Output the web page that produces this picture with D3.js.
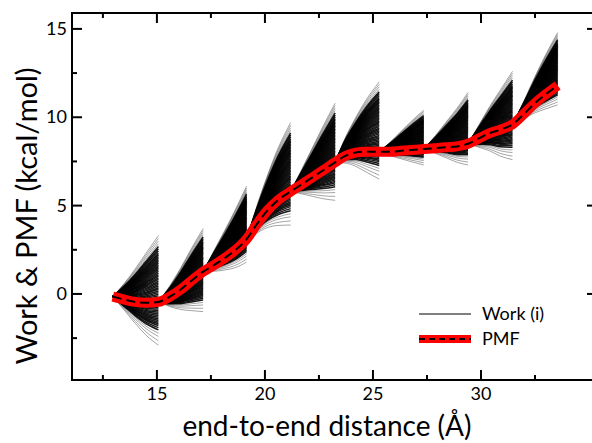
<!DOCTYPE html>
<html>
<head>
<meta charset="utf-8">
<script src="https://cdn.jsdelivr.net/npm/d3@7"></script>
<style>
  body { margin: 0; background: #fff; }
  text { font-family: Lato, "Open Sans", sans-serif; fill: #000; }
</style>
</head>
<body>
<div id="canvas"></div>
<script>
"use strict"

// PMF curve (end-to-end distance in A, energy in kcal/mol)
let pmfX = [12.96, 13.5, 14, 14.5, 15.07, 15.6, 16.1, 16.6, 17.14, 17.6, 18.1, 18.6, 19.15,
    19.6, 20.1, 20.6, 21.19, 21.7, 22.2, 22.7, 23.25, 23.7, 24.2, 24.7, 25.29, 25.8, 26.3, 26.8,
    27.35, 27.9, 28.4, 28.9, 29.4, 29.9, 30.4, 30.9, 31.46, 32, 32.5, 33, 33.55];
let pmfY = [-0.15, -0.32, -0.45, -0.5, -0.45, -0.15, 0.25, 0.75, 1.26, 1.6, 2.0, 2.45, 3.1,
    3.9, 4.7, 5.3, 5.8, 6.2, 6.6, 7.0, 7.45, 7.8, 8.0, 8.05, 8.05, 8.05, 8.1, 8.15,
    8.2, 8.25, 8.3, 8.35, 8.5, 8.8, 9.1, 9.3, 9.6, 10.2, 10.8, 11.3, 11.8];

// work bundles: lowest and highest work at the end of each pulling window
let workLow = [-2.9, -1.0, 1.8, 3.9, 5.3, 6.5, 7.3, 7.3, 7.6, 10.7];
let workHigh = [3.3, 3.7, 6.1, 9.7, 10.8, 12.0, 10.4, 11.4, 12.6, 14.8];
// where each trajectory ends inside its window (0 = lowest, 1 = highest)
let workSpread = [0, 0.04, 0.08, 0.11, 0.14, 0.16, 0.18, 0.195, 0.21, 0.225, 0.24, 0.255, 0.27,
    0.285, 0.3, 0.315, 0.33, 0.345, 0.36, 0.375, 0.39, 0.405, 0.42, 0.435, 0.45, 0.465, 0.48,
    0.495, 0.51, 0.525, 0.54, 0.555, 0.57, 0.585, 0.6, 0.615, 0.63, 0.645, 0.66, 0.675, 0.69,
    0.705, 0.72, 0.735, 0.75, 0.765, 0.78, 0.795, 0.81, 0.825, 0.84, 0.86, 0.88, 0.9, 0.925,
    0.95, 0.975, 1];

let xTicks = [15, 20, 25, 30];
let xMinor = [12.5, 17.5, 22.5, 27.5, 32.5];
let yTicks = [0, 5, 10, 15];
let yMinor = [-2.5, 2.5, 7.5, 12.5];

let width = 592, height = 443;
let plotLeft = 72, plotRight = 597, plotTop = 13, plotBottom = 380;

let drawing = d3.select("#canvas")
    .append("svg")
    .attr("width", width)
    .attr("height", height);

let x = d3.scaleLinear().domain([11.07, 35.37]).range([plotLeft, plotRight]);
let y = d3.scaleLinear().domain([-4.87, 15.9]).range([plotBottom, plotTop]);

let line = d3.line()
    .x(d => x(d[0]))
    .y(d => y(d[1]))
    .curve(d3.curveMonotoneX);

// work trajectories, one fan per window of 4 PMF steps
let work = drawing.append("g");
for (let k = 0; k < workLow.length; k++) {
    let idx = d3.range(4 * k, 4 * k + 5);
    let endPmf = pmfY[4 * k + 4];
    workSpread.forEach(f => {
        let endW = workLow[k] + f * (workHigh[k] - workLow[k]);
        let pts = idx.map((i, n) => [pmfX[i], pmfY[i] + (endW - endPmf) * n / 4]);
        // outer trajectories are sparse, so they look grey
        let outer = f < 0.12 || f > 0.9;
        work.append("path")
            .attr("d", line(pts))
            .attr("fill", "none")
            .attr("stroke", "#000")
            .attr("stroke-opacity", outer ? 0.45 : 0.9)
            .attr("stroke-width", outer ? 0.8 : 1.5);
    });
}

// PMF: thick red with dashed black on top
let pmfPts = pmfX.map((v, i) => [v, pmfY[i]]);
drawing.append("path")
    .attr("d", line(pmfPts))
    .attr("fill", "none")
    .attr("stroke", "#ff0000")
    .attr("stroke-width", 10);
drawing.append("path")
    .attr("d", line(pmfPts))
    .attr("fill", "none")
    .attr("stroke", "#000")
    .attr("stroke-width", 2)
    .attr("stroke-dasharray", "9,5");

// frame
drawing.append("rect")
    .attr("x", plotLeft).attr("y", plotTop)
    .attr("width", plotRight - plotLeft).attr("height", plotBottom - plotTop)
    .attr("fill", "none").attr("stroke", "#000").attr("stroke-width", 2);

// ticks, all pointing inward
function xTick(v, len) {
    drawing.append("line").attr("x1", x(v)).attr("x2", x(v))
        .attr("y1", plotBottom).attr("y2", plotBottom - len).attr("stroke", "#000").attr("stroke-width", 2);
    drawing.append("line").attr("x1", x(v)).attr("x2", x(v))
        .attr("y1", plotTop).attr("y2", plotTop + len).attr("stroke", "#000").attr("stroke-width", 2);
}
function yTick(v, len) {
    drawing.append("line").attr("x1", plotLeft).attr("x2", plotLeft + len)
        .attr("y1", y(v)).attr("y2", y(v)).attr("stroke", "#000").attr("stroke-width", 2);
    drawing.append("line").attr("x1", plotRight).attr("x2", plotRight - len)
        .attr("y1", y(v)).attr("y2", y(v)).attr("stroke", "#000").attr("stroke-width", 2);
}
xTicks.forEach(v => xTick(v, 10));
xMinor.forEach(v => xTick(v, 5));
yTicks.forEach(v => yTick(v, 10));
yMinor.forEach(v => yTick(v, 5));

// tick labels
drawing.selectAll(".xl").data(xTicks).enter().append("text")
    .attr("x", d => x(d)).attr("y", 400)
    .attr("text-anchor", "middle").attr("font-size", 18)
    .text(d => d);
drawing.selectAll(".yl").data(yTicks).enter().append("text")
    .attr("x", 67).attr("y", d => y(d) + 6)
    .attr("text-anchor", "end").attr("font-size", 18)
    .text(d => d);

// axis titles
drawing.append("text")
    .attr("x", 327).attr("y", 436)
    .attr("text-anchor", "middle").attr("font-size", 28)
    .text("end-to-end distance (Å)");
drawing.append("text")
    .attr("transform", "translate(37,216) rotate(-90)")
    .attr("text-anchor", "middle").attr("font-size", 29)
    .text("Work & PMF (kcal/mol)");

// legend
drawing.append("line")
    .attr("x1", 419).attr("x2", 471).attr("y1", 314).attr("y2", 314)
    .attr("stroke", "#000").attr("stroke-width", 1.2);
drawing.append("text").attr("x", 482).attr("y", 320).attr("font-size", 18).text("Work (i)");
drawing.append("rect")
    .attr("x", 419).attr("y", 335).attr("width", 52).attr("height", 8)
    .attr("fill", "#ff0000");
drawing.append("line")
    .attr("x1", 419).attr("x2", 471).attr("y1", 339).attr("y2", 339)
    .attr("stroke", "#000").attr("stroke-width", 1.8).attr("stroke-dasharray", "6,4");
drawing.append("text").attr("x", 482).attr("y", 345).attr("font-size", 18).text("PMF");
</script>
</body>
</html>
